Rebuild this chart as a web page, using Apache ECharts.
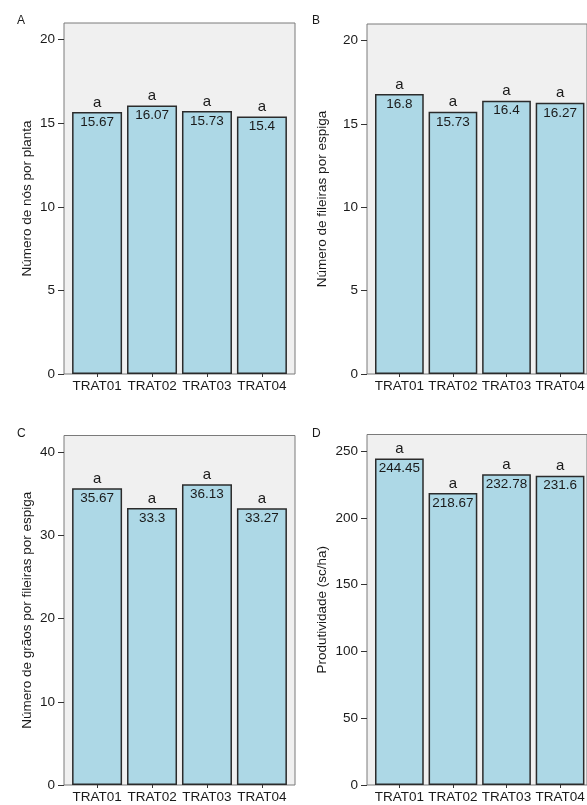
<!DOCTYPE html>
<html>
<head>
<meta charset="utf-8">
<script src="https://cdn.jsdelivr.net/npm/echarts@6/dist/echarts.min.js"></script>
<style>
  html, body { margin: 0; padding: 0; background: #ffffff; }
  #chart { width: 587px; height: 805px; }
</style>
</head>
<body>
<div id="chart"></div>
<script>
// Treatments shared by every panel
const categories = ['TRAT01', 'TRAT02', 'TRAT03', 'TRAT04'];

// Panel A: nodes per plant
const nodesPerPlant = [15.67, 16.07, 15.73, 15.4];
const groupsA = ['a', 'a', 'a', 'a'];
const ticksA = [0, 5, 10, 15, 20];

// Panel B: kernel rows per ear
const rowsPerEar = [16.8, 15.73, 16.4, 16.27];
const groupsB = ['a', 'a', 'a', 'a'];
const ticksB = [0, 5, 10, 15, 20];

// Panel C: kernels per row
const kernelsPerRow = [35.67, 33.3, 36.13, 33.27];
const groupsC = ['a', 'a', 'a', 'a'];
const ticksC = [0, 10, 20, 30, 40];

// Panel D: yield (sc/ha)
const yieldScHa = [244.45, 218.67, 232.78, 231.6];
const groupsD = ['a', 'a', 'a', 'a'];
const ticksD = [0, 50, 100, 150, 200, 250];

const FONT = "'Liberation Sans', Arial, sans-serif";
const TEXT = '#1a1a1a';

// Layout of each panel: outer frame box plus axis range
const panels = [
  { tag: 'A', title: 'Número de nós por planta', values: nodesPerPlant, groups: groupsA, ticks: ticksA, max: 21,
    left: 64, top: 23, width: 231, height: 351, nameGap: 30, tagX: 12, tagY: 10 },
  { tag: 'B', title: 'Número de fileiras por espiga', values: rowsPerEar, groups: groupsB, ticks: ticksB, max: 21,
    left: 367, top: 24, width: 231, height: 350, nameGap: 38, tagX: 307, tagY: 10 },
  { tag: 'C', title: 'Número de grãos por fileiras por espiga', values: kernelsPerRow, groups: groupsC, ticks: ticksC, max: 42,
    left: 64, top: 435.5, width: 231, height: 349.5, nameGap: 30, tagX: 12, tagY: 423 },
  { tag: 'D', title: 'Produtividade (sc/ha)', values: yieldScHa, groups: groupsD, ticks: ticksD, max: 262.5,
    left: 367, top: 434.5, width: 231, height: 350.5, nameGap: 38, tagX: 307, tagY: 423 }
];

// Horizontal padding between the frame edge and the first/last category band
const PAD = 5.6;

const grid = [], xAxis = [], yAxis = [], series = [], title = [];

panels.forEach((p, i) => {
  const frameIdx = i * 2;
  const dataIdx = i * 2 + 1;

  // grey panel with border
  grid.push({
    left: p.left, top: p.top, width: p.width, height: p.height,
    show: true, backgroundColor: '#f0f0f0', borderColor: '#7a7a7a', borderWidth: 1, z: 0
  });
  // plotting area for the bars
  grid.push({
    left: p.left + PAD, top: p.top, width: p.width - 2 * PAD, height: p.height
  });

  xAxis.push({ gridIndex: frameIdx, type: 'value', show: false, min: 0, max: 1 });
  yAxis.push({ gridIndex: frameIdx, type: 'value', show: false, min: 0, max: 1 });

  xAxis.push({
    gridIndex: dataIdx, type: 'category', data: categories,
    axisLine: { show: false },
    axisTick: { show: true, alignWithLabel: true, length: 3, lineStyle: { color: '#333', width: 1 } },
    axisLabel: { interval: 0, color: TEXT, fontSize: 13.5, fontFamily: FONT, margin: 5, hideOverlap: false }
  });
  yAxis.push({
    gridIndex: dataIdx, type: 'value', min: 0, max: p.max, offset: PAD,
    name: p.title, nameLocation: 'middle', nameGap: p.nameGap,
    nameTextStyle: { color: TEXT, fontSize: 13.5, fontFamily: FONT },
    axisLine: { show: false },
    axisTick: { show: true, length: 6, customValues: p.ticks, lineStyle: { color: '#333', width: 1 } },
    axisLabel: { color: TEXT, fontSize: 13.5, fontFamily: FONT, margin: 9, customValues: p.ticks },
    splitLine: { show: false }
  });

  // bars with their mean values printed inside the top
  series.push({
    type: 'bar', xAxisIndex: dataIdx, yAxisIndex: dataIdx,
    data: p.values, barCategoryGap: '9%',
    itemStyle: { color: '#add8e6', borderColor: '#2b2b2b', borderWidth: 1.5 },
    label: { show: true, position: 'insideTop', distance: 3, color: TEXT, fontSize: 13.5, fontFamily: FONT },
    silent: true, z: 3
  });
  // significance letters above each bar
  series.push({
    type: 'bar', xAxisIndex: dataIdx, yAxisIndex: dataIdx,
    data: p.values, barCategoryGap: '9%', barGap: '-100%',
    itemStyle: { color: 'rgba(0,0,0,0)' },
    label: {
      show: true, position: 'top', distance: 2, color: TEXT, fontSize: 15, fontFamily: FONT,
      formatter: (params) => p.groups[params.dataIndex]
    },
    silent: true, z: 4
  });

  title.push({
    text: p.tag, left: p.tagX, top: p.tagY,
    textStyle: { color: TEXT, fontSize: 12, fontWeight: 'normal', fontFamily: FONT }
  });
});

const chart = echarts.init(document.getElementById('chart'), null, { renderer: 'canvas' });
chart.setOption({
  animation: false,
  backgroundColor: '#ffffff',
  title, grid, xAxis, yAxis, series
});
</script>
</body>
</html>
